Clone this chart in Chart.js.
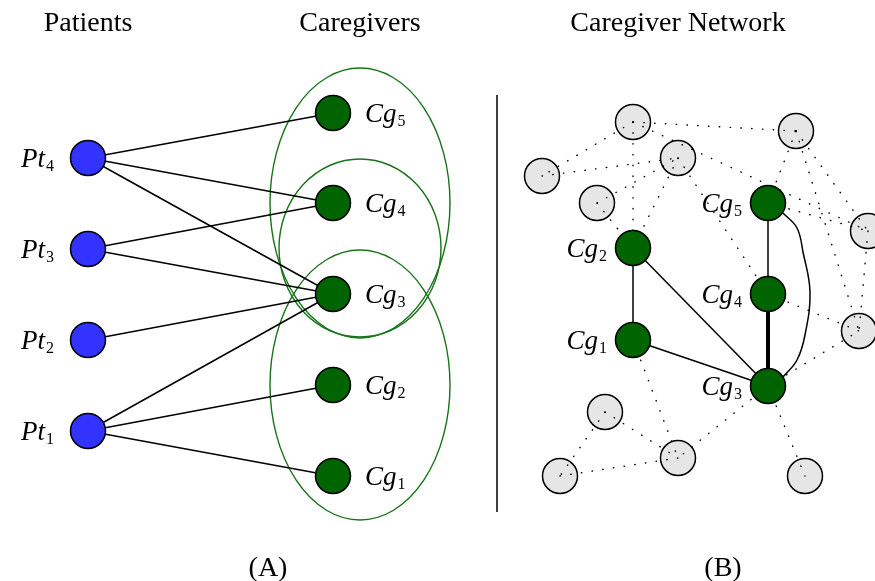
<!DOCTYPE html>
<html>
<head>
<meta charset="utf-8">
<script src="https://cdn.jsdelivr.net/npm/chart.js@4.4.1/dist/chart.umd.min.js"></script>
<style>
  body { margin: 0; background: #fff; }
  #chart { display: block; }
</style>
</head>
<body>
<canvas id="chart" width="875" height="581"></canvas>
<script>
// ---- panel A: patients and caregivers ----
const patientIds = ['1', '2', '3', '4'];
const patientX = [88, 88, 88, 88];
const patientY = [431, 340, 249, 158];

const caregiverIds = ['1', '2', '3', '4', '5'];
const caregiverX = [333, 333, 333, 333, 333];
const caregiverY = [476, 385, 294, 203, 113];

// [patient, caregiver]
const careLinks = [[4, 5], [4, 4], [4, 3], [3, 4], [3, 3], [2, 3], [1, 3], [1, 2], [1, 1]];

// caregiver groups (ellipses)
const groupX = [360, 360, 360];
const groupY = [203, 248, 385];
const groupRx = [90, 81, 90];
const groupRy = [135, 89, 135];

// ---- panel B: caregiver network ----
const netCgX = [633, 633, 768, 768, 768];
const netCgY = [340, 248, 386, 294, 203];

const otherIds = ['n1', 'n2', 'n3', 'n4', 'n5', 'n6', 'n7', 'n8', 'n9', 'n10', 'n11'];
const otherX = [633, 796, 678, 542, 597, 868, 859, 605, 560, 678, 805];
const otherY = [122, 131, 158, 176, 203, 231, 331, 412, 476, 458, 476];

const strongLinks = [['c5', 'c4'], ['c2', 'c1'], ['c2', 'c3'], ['c1', 'c3']];
const heavyLinks = [['c4', 'c3']];
const arcX = [783, 797, 803, 810, 805, 797, 783];
const arcY = [213, 228, 252, 292, 335, 360, 377];
const weakLinks = [
  ['n1', 'n4'], ['n1', 'n2'], ['n1', 'c2'], ['n1', 'n6'], ['n4', 'n3'], ['n3', 'c2'],
  ['n3', 'c4'], ['n5', 'n3'], ['n5', 'c2'], ['n2', 'c5'], ['n2', 'n6'], ['n2', 'n7'],
  ['c5', 'n6'], ['n6', 'n7'], ['c4', 'n7'], ['c3', 'n7'], ['c1', 'n10'], ['n8', 'n10'],
  ['n8', 'n9'], ['n9', 'n10'], ['c3', 'n10'], ['c3', 'n11']
];

const titles = ['Patients', 'Caregivers', 'Caregiver Network'];
const titleX = [88, 360, 678];
const panelTags = ['(A)', '(B)'];
const panelTagX = [268, 723];

// lookup for network nodes
const netPos = {};
caregiverIds.forEach((id, i) => { netPos['c' + id] = { x: netCgX[i], y: netCgY[i] }; });
otherIds.forEach((id, i) => { netPos[id] = { x: otherX[i], y: otherY[i] }; });

const datasets = [];

function edge(a, b, width, dash, order) {
  datasets.push({
    data: [a, b],
    showLine: true,
    borderColor: '#000',
    borderWidth: width,
    borderDash: dash || [],
    borderCapStyle: dash ? 'round' : 'butt',
    pointRadius: 0,
    pointHoverRadius: 0,
    order: order
  });
}

careLinks.forEach(([p, c]) => {
  edge({ x: patientX[p - 1], y: patientY[p - 1] }, { x: caregiverX[c - 1], y: caregiverY[c - 1] }, 1.5, null, 3);
});
strongLinks.forEach(([a, b]) => edge(netPos[a], netPos[b], 1.5, null, 3));
heavyLinks.forEach(([a, b]) => edge(netPos[a], netPos[b], 4, null, 3));
weakLinks.forEach(([a, b]) => edge(netPos[a], netPos[b], 1.4, [0.5, 10.3], 1));

// curved link c5 - c3
datasets.push({
  data: arcX.map((x, i) => ({ x: x, y: arcY[i] })),
  showLine: true, borderColor: '#000', borderWidth: 1.5, tension: 0.4,
  pointRadius: 0, pointHoverRadius: 0, order: 3
});

// divider
datasets.push({
  data: [{ x: 497, y: 95 }, { x: 497, y: 512 }],
  showLine: true, borderColor: '#000', borderWidth: 1.5,
  pointRadius: 0, pointHoverRadius: 0, order: 3
});

function nodes(xs, ys, fill, order) {
  datasets.push({
    data: xs.map((x, i) => ({ x: x, y: ys[i] })),
    showLine: false,
    pointRadius: 17.5,
    pointHoverRadius: 17.5,
    pointBackgroundColor: fill,
    pointBorderColor: '#000',
    pointBorderWidth: 1.5,
    pointHoverBorderWidth: 1.5,
    order: order
  });
}
nodes(otherX, otherY, '#e6e6e6', 2);
nodes(patientX, patientY, '#3333ff', 0);
nodes(caregiverX, caregiverY, '#006400', 0);
nodes(netCgX, netCgY, '#006400', 0);

const ellipsePlugin = {
  id: 'groups',
  beforeDatasetsDraw(chart) {
    const { ctx, scales: { x, y } } = chart;
    ctx.save();
    ctx.strokeStyle = '#177317';
    ctx.lineWidth = 1.4;
    groupX.forEach((gx, i) => {
      const cx = x.getPixelForValue(gx), cy = y.getPixelForValue(groupY[i]);
      const rx = Math.abs(x.getPixelForValue(gx + groupRx[i]) - cx);
      const ry = Math.abs(y.getPixelForValue(groupY[i] + groupRy[i]) - cy);
      ctx.beginPath();
      ctx.ellipse(cx, cy, rx, ry, 0, 0, Math.PI * 2);
      ctx.stroke();
    });
    ctx.restore();
  }
};

const MATH = 'italic 27px "Liberation Serif"';
const SUB = '16px "Liberation Serif"';

function mathLabel(ctx, base, sub, px, py, align) {
  ctx.font = MATH;
  const wb = ctx.measureText(base).width;
  ctx.font = SUB;
  const ws = ctx.measureText(sub).width;
  let left = align === 'right' ? px - wb - ws - 1 : px;
  ctx.font = MATH;
  ctx.fillText(base, left, py + 9);
  ctx.font = SUB;
  ctx.fillText(sub, left + wb + 1, py + 13);
}

const labelPlugin = {
  id: 'labels',
  afterDraw(chart) {
    const { ctx, scales: { x, y } } = chart;
    ctx.save();
    ctx.fillStyle = '#000';
    ctx.textAlign = 'left';
    ctx.textBaseline = 'alphabetic';
    patientIds.forEach((id, i) => {
      mathLabel(ctx, 'Pt', id, x.getPixelForValue(patientX[i] - 34), y.getPixelForValue(patientY[i]), 'right');
    });
    caregiverIds.forEach((id, i) => {
      mathLabel(ctx, 'Cg', id, x.getPixelForValue(caregiverX[i] + 32), y.getPixelForValue(caregiverY[i]), 'left');
      mathLabel(ctx, 'Cg', id, x.getPixelForValue(netCgX[i] - 26), y.getPixelForValue(netCgY[i]), 'right');
    });
    ctx.font = '28px "Liberation Serif"';
    ctx.textAlign = 'center';
    titles.forEach((t, i) => ctx.fillText(t, x.getPixelForValue(titleX[i]), y.getPixelForValue(31)));
    panelTags.forEach((t, i) => ctx.fillText(t, x.getPixelForValue(panelTagX[i]), y.getPixelForValue(576)));
    ctx.restore();
  }
};

new Chart(document.getElementById('chart'), {
  type: 'scatter',
  data: { datasets: datasets },
  options: {
    responsive: false,
    animation: false,
    events: [],
    layout: { padding: 0, autoPadding: false },
    scales: {
      x: { type: 'linear', min: 0, max: 875, display: false },
      y: { type: 'linear', min: 0, max: 581, reverse: true, display: false }
    },
    plugins: { legend: { display: false }, tooltip: { enabled: false } }
  },
  plugins: [ellipsePlugin, labelPlugin]
});
</script>
</body>
</html>
